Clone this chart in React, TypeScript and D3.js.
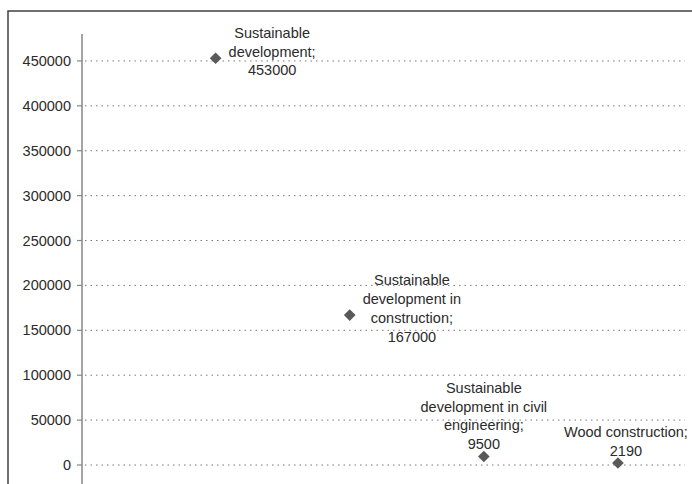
import React, { useMemo } from "react";
import * as d3 from "d3";

// Search-result counts per query term
const categories = [
  "Sustainable development",
  "Sustainable development in construction",
  "Sustainable development in civil engineering",
  "Wood construction",
];
const values = [453000, 167000, 9500, 2190];
const yTicks = [0, 50000, 100000, 150000, 200000, 250000, 300000, 350000, 400000, 450000];

// Where each data label sits relative to its marker
const labelPlacement: { pos: "right" | "above"; dx: number }[] = [
  { pos: "right", dx: 0 },
  { pos: "right", dx: 0 },
  { pos: "above", dx: 0 },
  { pos: "above", dx: 8 },
];

const W = 692;
const H = 484;
const FONT = '"Liberation Sans", Arial, sans-serif';
const FONT_SIZE = 14.5;
const LINE_H = 18.7;
const WRAP = 132;
const TEXT = "#2b2b2b";

function wrapWords(text: string, maxW: number, measure: (s: string) => number): string[] {
  const words = text.split(" ");
  const lines: string[] = [];
  let cur = "";
  for (const w of words) {
    const next = cur ? cur + " " + w : w;
    if (cur && measure(next) > maxW) {
      lines.push(cur);
      cur = w;
    } else cur = next;
  }
  if (cur) lines.push(cur);
  return lines;
}

export default function App() {
  const x = d3.scaleLinear().domain([0, 4.5]).range([81.5, 685]);
  const y = d3.scaleLinear().domain([0, 480000]).range([465, 34]);
  const axisX = 82;

  const measure = useMemo(() => {
    const ctx = document.createElement("canvas").getContext("2d")!;
    ctx.font = `${FONT_SIZE}px ${FONT}`;
    return (s: string) => ctx.measureText(s).width;
  }, []);

  const diamond = d3.symbol(d3.symbolSquare, 68)()!;

  const labels = categories.map((c, i) => {
    const lines = [...wrapWords(c + ";", WRAP, measure), String(values[i])];
    const px = x(i + 1);
    const py = y(values[i]);
    const blockW = Math.max(...lines.map(measure));
    const p = labelPlacement[i];
    let cx: number;
    let firstY: number;
    if (p.pos === "right") {
      cx = px + 13 + blockW / 2;
      const centre = py - 6.5;
      firstY = centre - ((lines.length - 1) * LINE_H) / 2;
    } else {
      cx = px;
      firstY = py - 12.5 - (lines.length - 1) * LINE_H;
    }
    return { lines, cx: cx + p.dx, firstY };
  });

  return (
    <svg
      width={W}
      height={H}
      style={{ position: "absolute", left: 0, top: 0, background: "#fff" }}
      fontFamily={FONT}
      fontSize={FONT_SIZE}
    >
      {/* chart frame */}
      <rect x={8} y={11} width={W + 20} height={H + 20} fill="#fff" stroke="#404040" strokeWidth={1.5} />

      {/* gridlines */}
      {yTicks.map((t) => (
        <line
          key={"g" + t}
          x1={axisX + 3}
          x2={685}
          y1={y(t)}
          y2={y(t)}
          stroke="#7a7a7a"
          strokeWidth={1}
          strokeDasharray="1.5,4"
        />
      ))}

      {/* y axis */}
      <line x1={axisX} x2={axisX} y1={y(480000)} y2={y(-25000)} stroke="#868686" strokeWidth={1.5} />
      {yTicks.map((t) => (
        <g key={"t" + t}>
          <line x1={axisX - 5} x2={axisX} y1={y(t)} y2={y(t)} stroke="#868686" strokeWidth={1.2} />
          <text x={71} y={y(t)} textAnchor="end" dominantBaseline="central" fill={TEXT}>
            {t}
          </text>
        </g>
      ))}

      {/* markers */}
      {values.map((v, i) => (
        <path
          key={"m" + i}
          d={diamond}
          transform={`translate(${x(i + 1)},${y(v)}) rotate(45)`}
          fill="#595959"
        />
      ))}

      {/* data labels */}
      {labels.map((l, i) => (
        <text key={"l" + i} textAnchor="middle" fill={TEXT}>
          {l.lines.map((ln, j) => (
            <tspan key={j} x={l.cx} y={l.firstY + j * LINE_H} dominantBaseline="central">
              {ln}
            </tspan>
          ))}
        </text>
      ))}
    </svg>
  );
}
